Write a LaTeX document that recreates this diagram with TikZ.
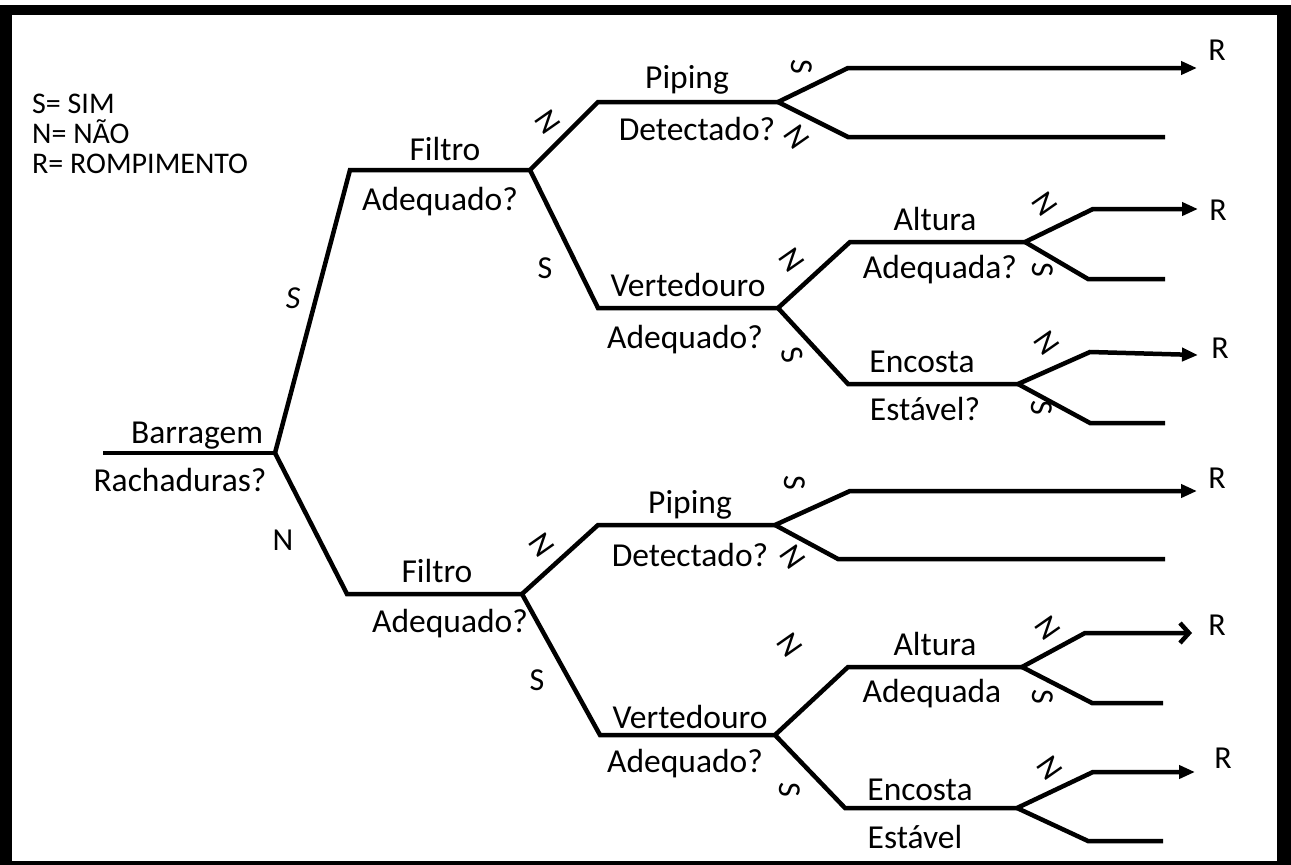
\documentclass[tikz,border=0pt]{standalone}
\usepackage{fontspec}
\setmainfont{Carlito}
\usetikzlibrary{arrows.meta}
\begin{document}
\begin{tikzpicture}[x=1pt,y=-1pt,
  br/.style={line width=4.5pt, line join=miter},
  lbl/.style={font=\fontsize{33.5}{40}\selectfont, inner sep=0pt, anchor=base},
  yn/.style={font=\fontsize{32}{38}\selectfont, inner sep=0pt},
  nr/.style={yn, rotate=-55},
  sr/.style={yn, rotate=-90},
  leg/.style={font=\fontsize{30}{36}\selectfont, inner sep=0pt, anchor=base west},
  arr/.style={-{Triangle[length=16pt,width=13pt]}},
  oarr/.style={-{Straight Barb[length=9pt,width=20pt,line width=4.5pt]}}
]
\useasboundingbox (0,0) rectangle (1291,865);
\fill[black] (0,5) rectangle (1291,865);
\fill[white] (12,15) rectangle (1277,861);

% legend
\node[leg] (l1) at (32,113) {S= SIM};
\node[leg] (l2) at (32,143) {N= NÃO};
\node[leg] (l3) at (32,173) {R= ROMPIMENTO};

% junction coordinates
\coordinate (r0) at (103,453); \coordinate (r) at (275,453);
\coordinate (a0) at (350,170); \coordinate (a) at (530,170);
\coordinate (b0) at (598,102); \coordinate (b) at (778,102);
\coordinate (b1) at (848,68);  \coordinate (b1e) at (1197,68);
\coordinate (b2) at (848,137); \coordinate (b2e) at (1165,137);
\coordinate (c0) at (598,308); \coordinate (c) at (778,308);
\coordinate (d0) at (850,242); \coordinate (d) at (1025,242);
\coordinate (d1) at (1093,209); \coordinate (d1e) at (1198,209);
\coordinate (d2) at (1088,279); \coordinate (d2e) at (1165,279);
\coordinate (e0) at (848,384); \coordinate (e) at (1018,384);
\coordinate (e1) at (1090,352); \coordinate (e1e) at (1198,355);
\coordinate (e2) at (1090,423); \coordinate (e2e) at (1165,423);
\coordinate (f0) at (347,594); \coordinate (f) at (522,594);
\coordinate (g0) at (598,525); \coordinate (g) at (775,525);
\coordinate (g1) at (850,491); \coordinate (g1e) at (1197,491);
\coordinate (g2) at (838,559); \coordinate (g2e) at (1165,559);
\coordinate (h0) at (600,735); \coordinate (h) at (775,735);
\coordinate (i0) at (848,667); \coordinate (i) at (1022,667);
\coordinate (i1) at (1085,633); \coordinate (i1e) at (1192,633);
\coordinate (i2) at (1092,703); \coordinate (i2e) at (1163,703);
\coordinate (j0) at (845,808); \coordinate (j) at (1017,808);
\coordinate (j1) at (1093,772); \coordinate (j1e) at (1195,772);
\coordinate (j2) at (1088,841); \coordinate (j2e) at (1163,841);

% branches
\draw[br] (r0) -- (r);
\draw[br] (r) -- (a0) -- (a);
\draw[br] (a) -- (b0) -- (b);
\draw[br,arr] (b) -- (b1) -- (b1e);
\draw[br] (b) -- (b2) -- (b2e);
\draw[br] (a) -- (c0) -- (c);
\draw[br] (c) -- (d0) -- (d);
\draw[br,arr] (d) -- (d1) -- (d1e);
\draw[br] (d) -- (d2) -- (d2e);
\draw[br] (c) -- (e0) -- (e);
\draw[br,arr] (e) -- (e1) -- (e1e);
\draw[br] (e) -- (e2) -- (e2e);
\draw[br] (r) -- (f0) -- (f);
\draw[br] (f) -- (g0) -- (g);
\draw[br,arr] (g) -- (g1) -- (g1e);
\draw[br] (g) -- (g2) -- (g2e);
\draw[br] (f) -- (h0) -- (h);
\draw[br] (h) -- (i0) -- (i);
\draw[br,oarr] (i) -- (i1) -- (i1e);
\draw[br] (i) -- (i2) -- (i2e);
\draw[br] (h) -- (j0) -- (j);
\draw[br,arr] (j) -- (j1) -- (j1e);
\draw[br] (j) -- (j2) -- (j2e);

% question labels
\node[lbl] (t1) at (197,443) {Barragem};
\node[lbl] (t2) at (180,491) {Rachaduras?};
\node[lbl] (t3) at (445,160) {Filtro};
\node[lbl] (t4) at (440,210) {Adequado?};
\node[lbl] (t5) at (687,88) {Piping};
\node[lbl] (t6) at (697,140) {Detectado?};
\node[lbl] (t7) at (688,296) {Vertedouro};
\node[lbl] (t8) at (685,348) {Adequado?};
\node[lbl] (t9) at (935,230) {Altura};
\node[lbl] (t10) at (940,278) {Adequada?};
\node[lbl] (t11) at (922,372) {Encosta};
\node[lbl] (t12) at (925,420) {Estável?};
\node[lbl] (t13) at (437,582) {Filtro};
\node[lbl] (t14) at (450,632) {Adequado?};
\node[lbl] (t15) at (690,513) {Piping};
\node[lbl] (t16) at (690,566) {Detectado?};
\node[lbl] (t17) at (690,728) {Vertedouro};
\node[lbl] (t18) at (685,772) {Adequado?};
\node[lbl] (t19) at (935,655) {Altura};
\node[lbl] (t20) at (932,702) {Adequada};
\node[lbl] (t21) at (920,800) {Encosta};
\node[lbl] (t22) at (915,848) {Estável};

% outcome labels
\node[yn] (o1) at (1217,50) {R};
\node[yn] (o2) at (1218,210) {R};
\node[yn] (o3) at (1220,348) {R};
\node[yn] (o4) at (1217,478) {R};
\node[yn] (o5) at (1217,625) {R};
\node[yn] (o6) at (1223,758) {R};

% S / N labels
\node[yn] (s1) at (293,298) {\itshape S};
\node[yn] (n1) at (283,540) {N};
\node[nr] (n2) at (548,122) {N};
\node[yn] (s2) at (545,268) {S};
\node[sr] (s3) at (802,67) {S};
\node[nr] (n3) at (797,137) {N};
\node[nr] (n4) at (792,260) {N};
\node[yn, rotate=-75] (s4) at (792,355) {S};
\node[nr] (n5) at (1045,204) {N};
\node[sr] (s5) at (1043,270) {S};
\node[nr] (n6) at (1047,343) {N};
\node[sr] (s6) at (1042,408) {S};
\node[nr] (n7) at (542,545) {N};
\node[yn] (s7) at (537,680) {S};
\node[sr] (s8) at (795,483) {S};
\node[nr] (n8) at (793,557) {N};
\node[nr] (n9) at (790,645) {N};
\node[sr] (s9) at (790,790) {S};
\node[nr] (n10) at (1048,628) {N};
\node[sr] (s10) at (1043,697) {S};
\node[nr] (n11) at (1050,768) {N};
\end{tikzpicture}
\end{document}
